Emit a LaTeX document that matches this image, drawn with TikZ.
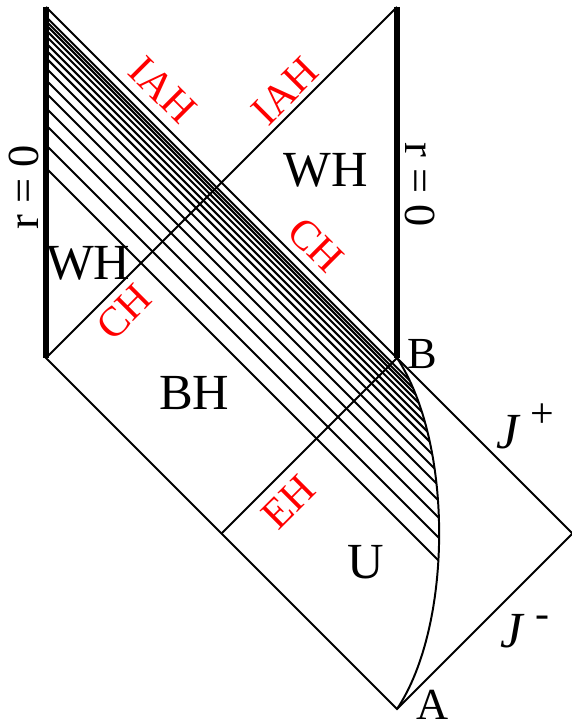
\documentclass[tikz,border=0pt]{standalone}
\usepackage{fontspec}
\setmainfont{Liberation Serif}

\tikzset{
  wall/.style={line width=4.8pt},
  ray/.style={line width=1.6pt},
  horizon/.style={red, font=\fontsize{34}{40}\selectfont},
  region/.style={font=\fontsize{41}{48}\selectfont},
  tag/.style={font=\fontsize{36}{42}\selectfont},
}
\newcommand{\scrisup}[1]{\textit{J}\hspace{0.2em}\raisebox{0.4em}{\fontsize{34}{40}\selectfont #1}}

\begin{document}
\begin{tikzpicture}
        \useasboundingbox (-1.311,-10.285) rectangle (14.957,10.199);

        % Corners of the diagram
        \coordinate (TL) at (0,10);
        \coordinate (TR) at (10,10);
        \coordinate (L) at (0,0);
        \coordinate (B) at (10,0);
        \coordinate (E) at (5,-5);
        \coordinate (A) at (10,-10);
        \coordinate (R) at (15,-5);

        % Hatching between the left wall and the surface
        \begin{scope}
            \clip (TL) -- (B) .. controls (11.6,-2.4) and (11.6,-7.6) .. (A) -- (L) -- cycle;
            \foreach \d in {0.28,0.40,0.51,0.66,0.83,1.03,1.23,1.45,1.74,2.08,2.45,2.88,3.36,3.93,4.59}
                \draw[ray] (0,10-\d) -- ++(13,-13);
        \end{scope}

        % Null lines and the surface
        \draw[ray] (TL) -- (B) -- (R) -- (A) -- (L) -- (TR);
        \draw[ray] (E) -- (B);
        \draw[ray] (B) .. controls (11.6,-2.4) and (11.6,-7.6) .. (A);

        % Walls at r = 0
        \draw[wall] (TL) -- (L);
        \draw[wall] (TR) -- (B);

        % Horizons
        \node[horizon, rotate=-45] (iahL) at (3.33,7.64) {IAH};
        \node[horizon, rotate=45] (iahR) at (6.81,7.61) {IAH};
        \node[horizon, rotate=-45] (chR) at (7.69,3.22) {CH};
        \node[horizon, rotate=45] (chL) at (2.22,1.31) {CH};
        \node[horizon, rotate=45] (eh) at (6.9,-4.1) {EH};

        % Regions and points
        \node[region] (whR) at (7.98,5.36) {WH};
        \node[region] (whL) at (1.2,2.71) {WH};
        \node[region] (bh) at (4.22,-1.0) {BH};
        \node[region] (u) at (9.12,-5.81) {U};
        \node[tag, rotate=-90] (rR) at (10.66,4.93) {r = 0};
        \node[tag, rotate=90] (rL) at (-0.63,4.87) {r = 0};
        \node[tag] (bLab) at (10.71,0.11) {B};
        \node[tag] (aLab) at (11.0,-9.89) {A};
        \node[region] (jPlus) at (13.65,-1.95) {\scrisup{+}};
        \node[region] (jMinus) at (13.65,-7.78) {\scrisup{-}};
\end{tikzpicture}
\end{document}
